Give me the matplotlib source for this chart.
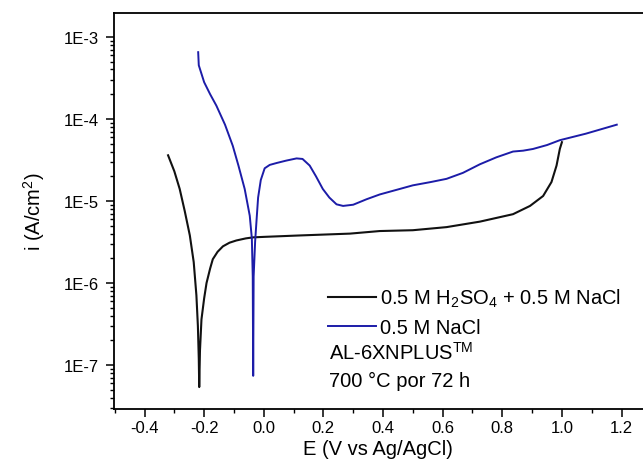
import numpy as np
import matplotlib
matplotlib.use('Agg')
import matplotlib.pyplot as plt
from matplotlib.ticker import FuncFormatter, LogLocator, MultipleLocator

plt.rcParams['font.family'] = ['Liberation Sans', 'DejaVu Sans']
plt.rcParams['mathtext.fontset'] = 'custom'
plt.rcParams['mathtext.rm'] = 'Liberation Sans'
plt.rcParams['mathtext.it'] = 'Liberation Sans:italic'

# 0.5 M H2SO4 + 0.5 M NaCl
black_E = [-0.321, -0.300, -0.282, -0.265, -0.248, -0.235, -0.226, -0.221, -0.218,
           -0.2165, -0.214, -0.209, -0.200, -0.192, -0.180, -0.171, -0.155, -0.137,
           -0.115, -0.092, -0.060, -0.036, 0.0, 0.121, 0.289, 0.389, 0.50, 0.613,
           0.725, 0.836, 0.893, 0.937, 0.965, 0.982, 0.993, 1.0]
black_i = [3.6e-5, 2.3e-5, 1.4e-5, 7.5e-6, 3.8e-6, 1.8e-6, 7.1e-7, 3.0e-7, 1.2e-7,
           5.4e-8, 1.5e-7, 3.6e-7, 6.5e-7, 1.0e-6, 1.5e-6, 1.95e-6, 2.4e-6, 2.8e-6,
           3.1e-6, 3.3e-6, 3.5e-6, 3.6e-6, 3.65e-6, 3.8e-6, 4.0e-6, 4.3e-6, 4.4e-6, 4.8e-6,
           5.6e-6, 6.9e-6, 8.7e-6, 1.15e-5, 1.7e-5, 2.7e-5, 4.3e-5, 5.2e-5]

# 0.5 M NaCl
blue_E = [-0.220, -0.218, -0.200, -0.180, -0.159, -0.130, -0.104, -0.085, -0.064,
          -0.047, -0.040, -0.037, -0.0355, -0.034, -0.029, -0.024, -0.019, -0.010,
          0.003, 0.020, 0.043, 0.075, 0.110, 0.130, 0.154, 0.175, 0.198, 0.220,
          0.244, 0.266, 0.300, 0.345, 0.389, 0.456, 0.500, 0.560, 0.613, 0.668,
          0.725, 0.780, 0.836, 0.870, 0.903, 0.950, 0.993, 1.080, 1.184]
blue_i = [6.5e-4, 4.5e-4, 2.8e-4, 2.0e-4, 1.45e-4, 8.5e-5, 4.7e-5, 2.7e-5, 1.4e-5,
          6.6e-6, 3.5e-6, 1.2e-6, 7.4e-8, 1.2e-6, 3.2e-6, 6.0e-6, 1.1e-5, 1.8e-5,
          2.5e-5, 2.75e-5, 2.9e-5, 3.1e-5, 3.3e-5, 3.25e-5, 2.7e-5, 2.0e-5, 1.4e-5, 1.1e-5,
          9.1e-6, 8.7e-6, 9.0e-6, 1.05e-5, 1.2e-5, 1.4e-5, 1.55e-5, 1.7e-5, 1.86e-5, 2.2e-5,
          2.8e-5, 3.4e-5, 4.0e-5, 4.1e-5, 4.3e-5, 4.8e-5, 5.5e-5, 6.6e-5, 8.5e-5]

x_ticks = [-0.4, -0.2, 0.0, 0.2, 0.4, 0.6, 0.8, 1.0, 1.2]

fig = plt.figure(figsize=(6.43, 4.77), dpi=100)
ax = fig.add_axes([0.177, 0.140, 0.823, 0.831])

ax.plot(black_E, black_i, color='#111111', lw=1.5, label='0.5 M H$_2$SO$_4$ + 0.5 M NaCl')
ax.plot(blue_E, blue_i, color='#1c1ca8', lw=1.4, label='0.5 M NaCl')

ax.set_yscale('log')
ax.set_xlim(-0.503, 1.272)
ax.set_ylim(2.9e-8, 1.96e-3)

ax.set_xticks(x_ticks)
ax.xaxis.set_minor_locator(MultipleLocator(0.1))
ax.xaxis.set_major_formatter(FuncFormatter(lambda v, p: f'{v:.1f}'))
ax.yaxis.set_major_locator(LogLocator(base=10, numticks=20))
ax.yaxis.set_minor_locator(LogLocator(base=10, subs=np.arange(2, 10), numticks=20))
ax.yaxis.set_major_formatter(FuncFormatter(lambda v, p: f'1E{int(round(np.log10(v)))}'))

for s in ['left', 'bottom', 'top']:
    ax.spines[s].set_linewidth(1.3)
ax.spines['right'].set_visible(False)
ax.tick_params(which='major', direction='out', length=6, width=1.1, labelsize=12)
ax.tick_params(axis='x', which='major', pad=2)
ax.tick_params(axis='y', which='major', pad=5)
ax.tick_params(which='minor', direction='out', length=3, width=1.0)

ax.set_xlabel('E (V vs Ag/AgCl)', fontsize=14.5, labelpad=3)
ax.set_ylabel('i (A/cm$^2$)', fontsize=14.5, labelpad=12)

ax.legend(loc='upper left', bbox_to_anchor=(0.404, 0.308), frameon=False,
          fontsize=14.5, handlelength=2.4, handletextpad=0.2, borderpad=0,
          borderaxespad=0, labelspacing=0.42)
ax.text(0.406, 0.144, 'AL-6XNPLUS$^{\\mathrm{TM}}$', transform=ax.transAxes,
        fontsize=14.5, va='center', ha='left')
ax.text(0.406, 0.073, '700 °C por 72 h', transform=ax.transAxes,
        fontsize=14.5, va='center', ha='left')

fig.savefig('out.png', dpi=100)
